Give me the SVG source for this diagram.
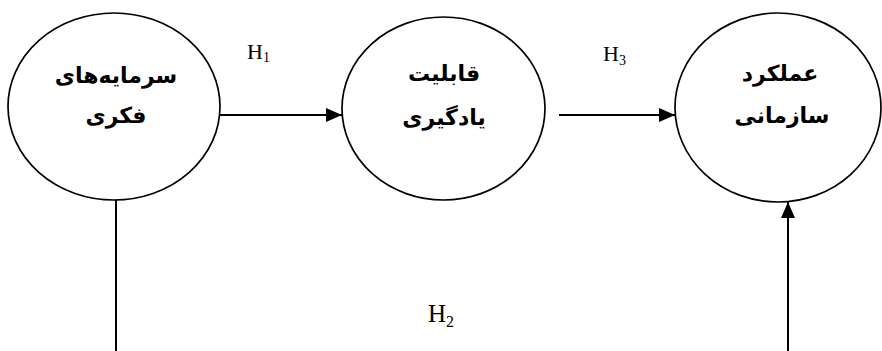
<svg xmlns="http://www.w3.org/2000/svg" width="882" height="351" viewBox="0 0 882 351">
<defs>
<marker id="arr" viewBox="0 0 16 14" refX="16" refY="7" markerWidth="16" markerHeight="14" markerUnits="userSpaceOnUse" orient="auto">
<path d="M0,0 L16,7 L0,14 Z" fill="#000"/>
</marker>
<style>
.node{fill:#fff;stroke:#000;stroke-width:1.7}
.lbl{font-family:"DejaVu Sans",sans-serif;font-weight:bold;font-size:22px;fill:#000;text-anchor:middle}
.h{font-family:"Liberation Serif",serif;fill:#000}
.con{stroke:#000;stroke-width:2;fill:none}
</style>
</defs>
<rect width="882" height="351" fill="#fff"/>
<g id="connectors">
<line class="con" x1="220" y1="115" x2="342" y2="115" marker-end="url(#arr)"/>
<line class="con" x1="559" y1="115" x2="675" y2="115" marker-end="url(#arr)"/>
<line class="con" x1="116" y1="200" x2="116" y2="351"/>
<line class="con" x1="788" y1="351" x2="788" y2="202" marker-end="url(#arr)"/>
<text class="h" x="247" y="59" font-size="22">H<tspan font-size="14" dy="3">1</tspan></text>
<text class="h" x="603" y="61" font-size="22">H<tspan font-size="14" dy="4">3</tspan></text>
<text class="h" x="428" y="322" font-size="25">H<tspan font-size="16" dy="5">2</tspan></text>
</g>
<g id="node1">
<ellipse class="node" cx="114" cy="106.5" rx="106" ry="93.5"/>
<text class="lbl" x="116" y="83" direction="rtl">سرمایه‌های</text>
<text class="lbl" x="116" y="123" direction="rtl">فکری</text>
</g>
<g id="node2">
<ellipse class="node" cx="443.5" cy="108.5" rx="101.5" ry="91.5"/>
<text class="lbl" x="444" y="81" direction="rtl">قابلیت</text>
<text class="lbl" x="444" y="125" direction="rtl">یادگیری</text>
</g>
<g id="node3">
<ellipse class="node" cx="778" cy="107.5" rx="103" ry="94.5"/>
<text class="lbl" x="780" y="81" direction="rtl">عملکرد</text>
<text class="lbl" x="782" y="123" direction="rtl">سازمانی</text>
</g>
</svg>
